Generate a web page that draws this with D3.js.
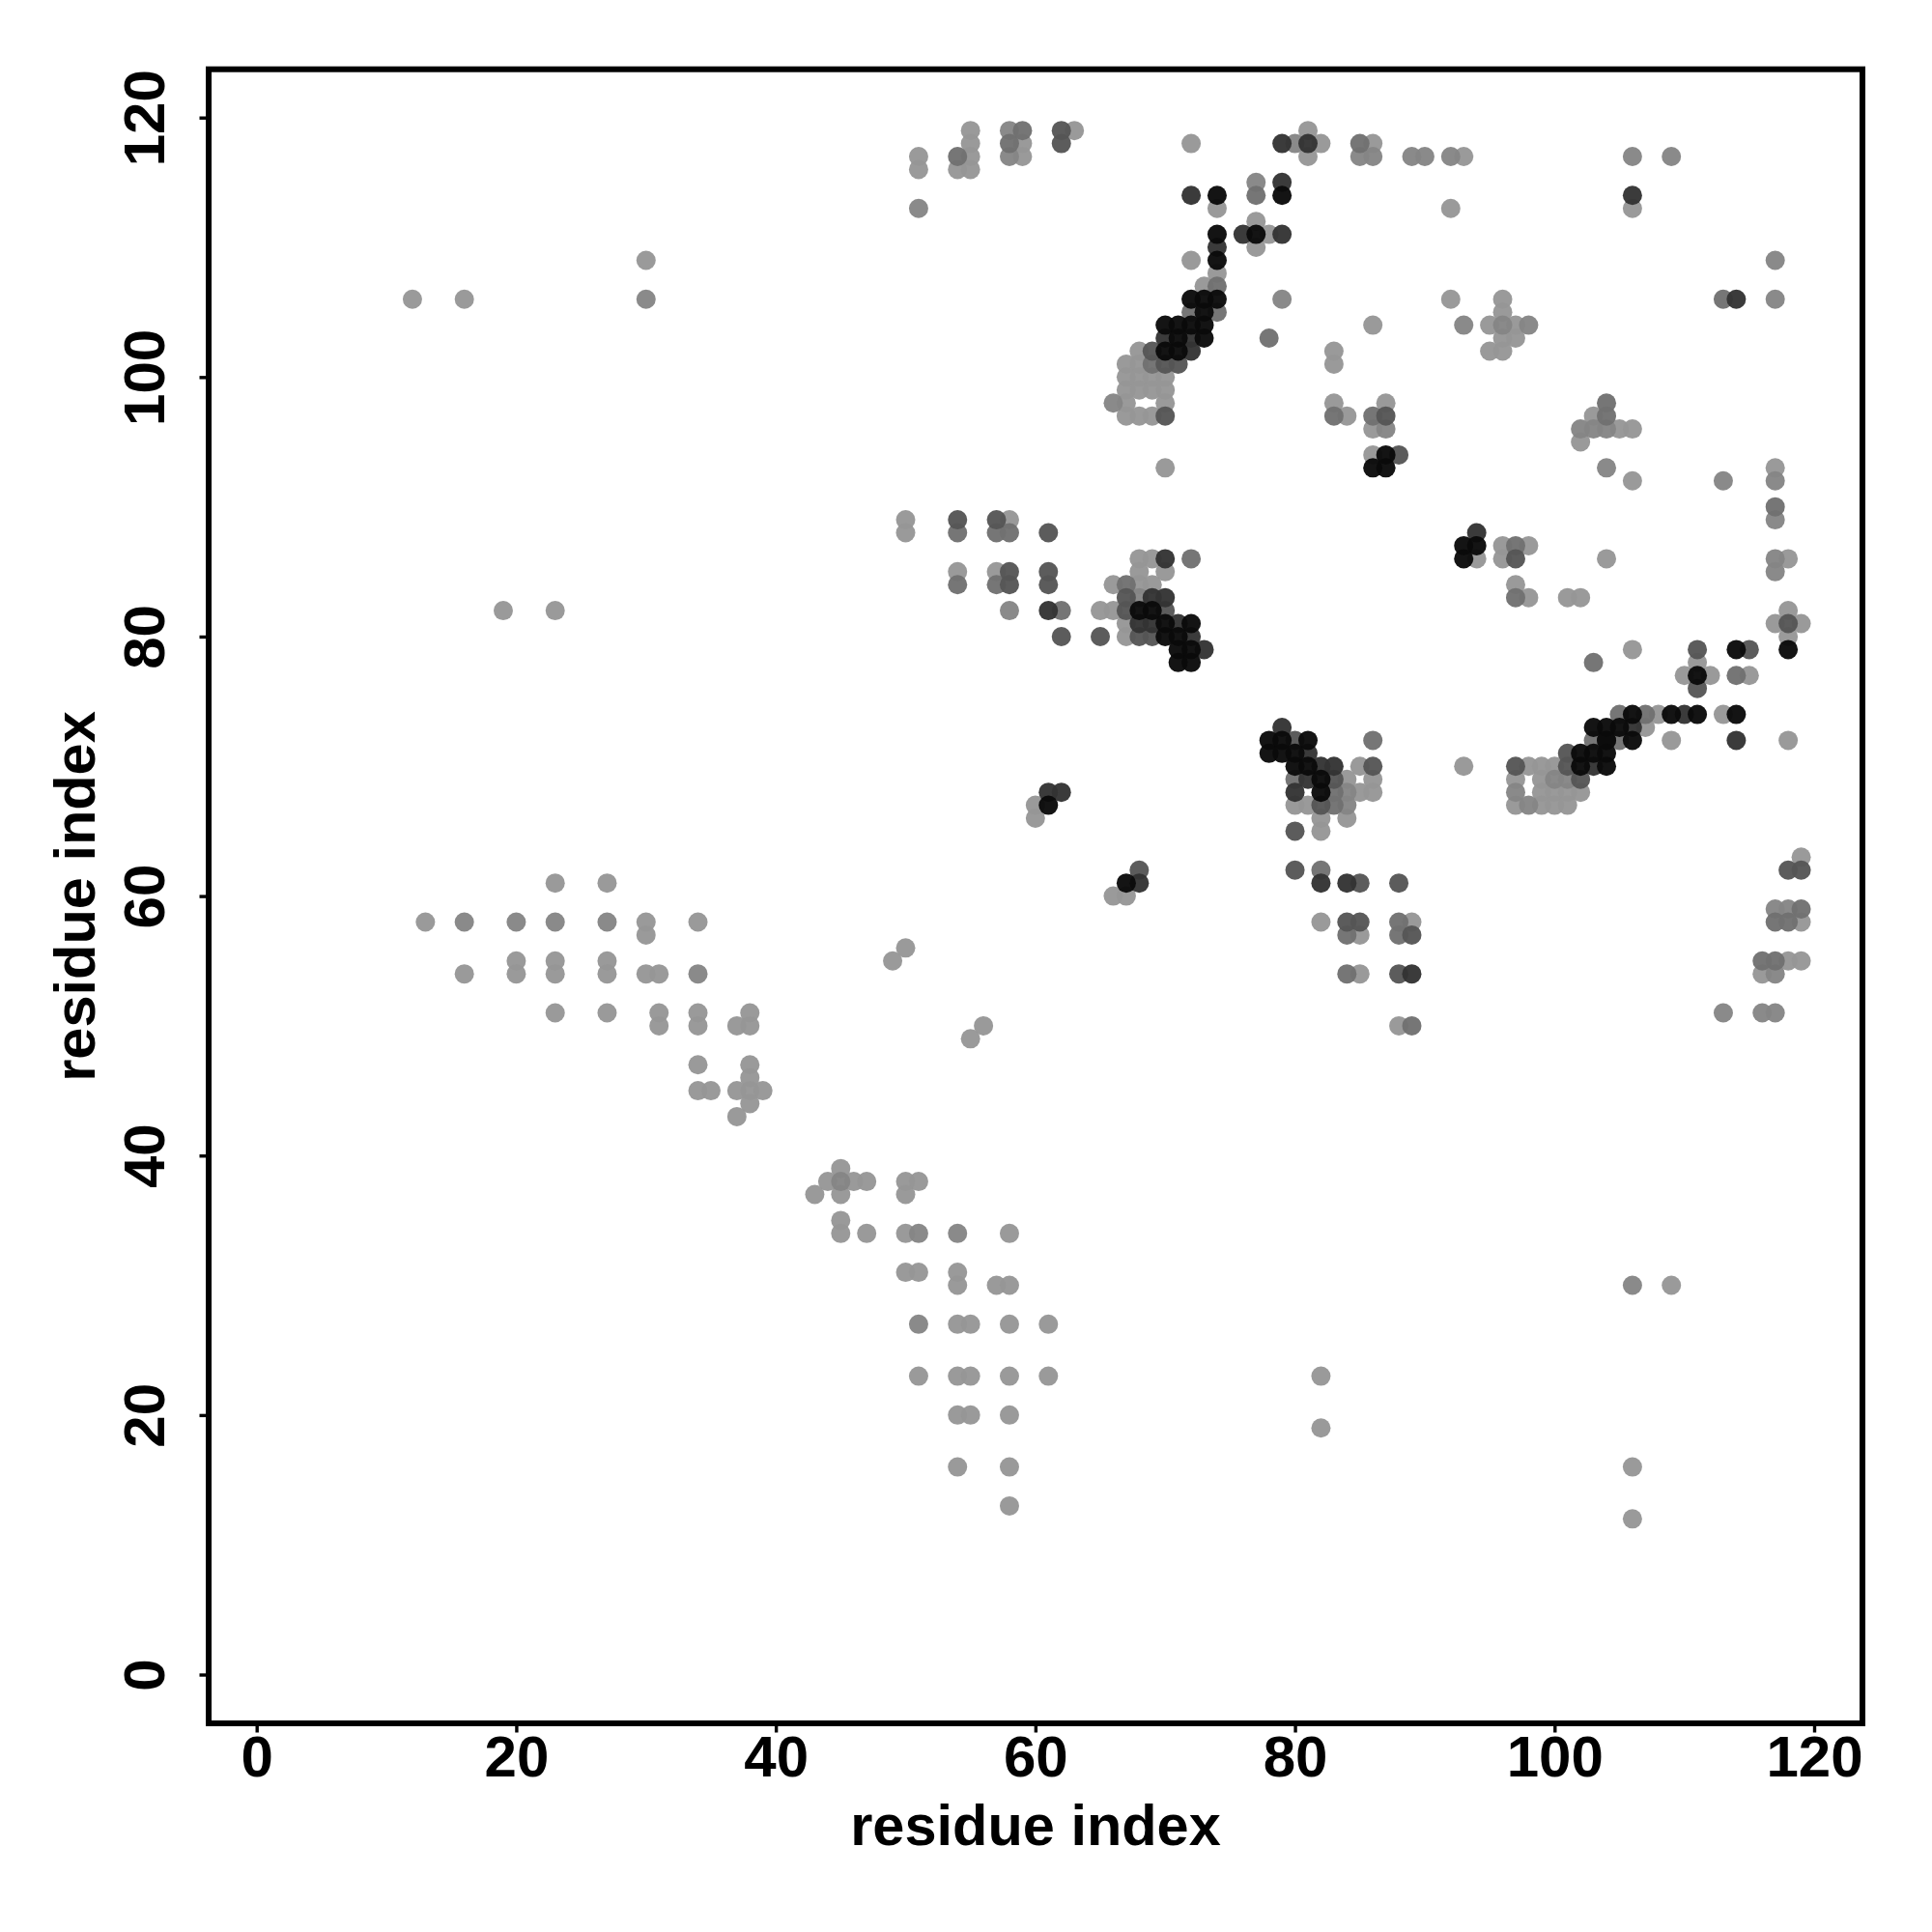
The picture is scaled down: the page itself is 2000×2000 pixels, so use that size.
<!DOCTYPE html>
<html><head><meta charset="utf-8">
<script src="https://cdn.jsdelivr.net/npm/d3@7"></script>
<style>html,body{margin:0;padding:0;background:#fff}</style>
</head><body><svg id="c" width="2000" height="2000"></svg>
<script>
const tickValues = [0,20,40,60,80,100,120];
const axisTitle = "residue index";
const light = [[55,119],[63,119],[81,119],[55,118],[59,118],[72,118],[82,118],[86,118],[51,117],[55,117],[59,117],[81,117],[93,117],[51,116],[54,116],[55,116],[74,113],[92,113],[106,113],[77,112],[78,111],[77,110],[30,109],[72,109],[74,108],[73,107],[12,106],[16,106],[92,106],[96,106],[96,105],[86,104],[95,104],[97,104],[96,103],[97,103],[68,102],[83,102],[95,102],[96,102],[67,101],[68,101],[83,101],[67,100],[68,100],[69,100],[70,100],[67,99],[68,99],[69,99],[70,99],[67,98],[70,98],[83,98],[87,98],[67,97],[68,97],[69,97],[84,97],[103,97],[86,96],[105,96],[106,96],[102,95],[86,94],[70,93],[117,93],[106,92],[50,89],[58,89],[50,88],[96,87],[98,87],[68,86],[69,86],[94,86],[96,86],[104,86],[118,86],[54,85],[57,85],[68,85],[70,85],[66,84],[68,84],[69,84],[97,84],[98,83],[101,83],[102,83],[19,82],[23,82],[65,82],[66,82],[118,82],[67,81],[117,81],[119,81],[67,80],[118,80],[106,79],[111,78],[110,77],[112,77],[115,77],[108,74],[113,74],[107,73],[109,72],[118,72],[85,70],[93,70],[98,70],[99,70],[100,70],[84,69],[86,69],[97,69],[99,69],[85,68],[86,68],[99,68],[100,68],[101,68],[102,68],[80,67],[81,67],[97,67],[99,67],[100,67],[101,67],[60,67],[60,66],[82,66],[84,66],[82,65],[119,63],[23,61],[27,61],[66,60],[67,60],[30,58],[34,58],[13,58],[82,58],[89,58],[119,58],[30,57],[85,57],[50,56],[118,55],[119,55],[49,55],[20,55],[23,55],[27,55],[116,54],[85,54],[16,54],[20,54],[23,54],[27,54],[30,54],[31,54],[23,51],[27,51],[31,51],[34,51],[38,51],[31,50],[34,50],[37,50],[38,50],[56,50],[88,50],[55,49],[34,47],[38,47],[38,46],[34,45],[35,45],[37,45],[38,45],[39,45],[38,44],[37,43],[45,39],[44,38],[46,38],[47,38],[50,38],[51,38],[43,37],[45,37],[50,37],[45,35],[45,34],[47,34],[50,34],[58,34],[50,31],[51,31],[54,31],[54,30],[57,30],[58,30],[109,30],[54,27],[55,27],[58,27],[61,27],[51,23],[54,23],[55,23],[58,23],[61,23],[82,23],[54,20],[55,20],[58,20],[82,19],[54,16],[58,16],[106,16],[58,13],[106,12]];
const midLight = [[58,119],[58,117],[80,118],[86,117],[85,117],[77,115],[89,117],[90,117],[92,117],[51,113],[106,117],[109,117],[79,106],[117,106],[117,109],[30,106],[113,92],[117,92],[117,89],[117,86],[117,85],[66,98],[87,96],[104,96],[103,96],[102,96],[98,104],[93,104],[96,104],[104,93],[58,82],[68,83],[97,68],[98,67],[100,69],[84,68],[84,67],[101,69],[113,51],[116,51],[117,51],[117,54],[117,59],[118,59],[34,54],[106,30],[54,34],[51,34],[27,58],[16,58],[20,58],[23,58],[45,38],[51,27]];
const mid = [[85,118],[58,118],[59,119],[54,117],[74,107],[72,105],[74,105],[77,114],[78,103],[113,106],[69,101],[104,98],[104,97],[86,97],[83,97],[117,90],[54,88],[57,88],[58,88],[97,87],[54,84],[57,84],[67,84],[97,83],[62,82],[72,86],[114,77],[103,78],[117,55],[117,58],[119,59],[118,58],[84,57],[84,54],[88,58],[83,67],[83,68],[80,69],[86,72],[107,74],[105,72],[103,72],[105,74],[116,55],[88,57],[89,50],[82,62]];
const darkMid = [[62,118],[62,119],[71,101],[70,101],[69,102],[70,97],[88,94],[87,97],[97,86],[88,54],[85,58],[84,58],[88,61],[85,61],[68,62],[80,62],[80,65],[118,62],[119,62],[61,88],[54,89],[57,89],[58,85],[58,84],[62,80],[65,80],[68,80],[67,82],[70,82],[67,83],[69,80],[80,72],[82,67],[83,69],[86,70],[97,70],[101,71],[101,70],[102,69],[111,76],[111,79],[115,79],[61,84],[61,85],[89,57],[118,81]];
const dark = [[79,118],[81,118],[79,115],[72,114],[106,114],[76,111],[79,111],[74,110],[72,103],[72,102],[70,103],[68,61],[82,61],[84,61],[61,82],[61,68],[62,68],[79,73],[80,68],[81,69],[81,71],[82,70],[83,70],[68,81],[69,81],[71,81],[69,83],[70,83],[73,79],[72,80],[70,86],[114,72],[106,73],[103,70],[104,72],[110,74],[114,106],[94,88],[89,54]];
const blackest = [[74,114],[79,114],[77,111],[74,111],[74,109],[72,106],[73,106],[74,106],[73,105],[70,104],[71,104],[72,104],[73,104],[71,103],[73,103],[70,102],[71,102],[87,94],[86,93],[87,93],[93,87],[94,87],[93,86],[68,82],[69,82],[70,81],[72,81],[70,80],[71,80],[71,79],[72,79],[71,78],[72,78],[118,79],[114,79],[111,77],[106,74],[109,74],[111,74],[114,74],[103,73],[104,73],[105,73],[104,72],[106,72],[102,71],[103,71],[104,71],[102,70],[104,70],[78,72],[79,72],[81,72],[78,71],[79,71],[80,71],[80,70],[81,70],[82,69],[82,68],[61,67],[67,61]];
const shadeGroups = [[light,"#969696"],[midLight,"#858585"],[mid,"#707070"],[darkMid,"#555555"],[dark,"#333333"],[blackest,"#0a0a0a"]];

const svg = d3.select("#c");
const x = d3.scaleLinear().domain([0,120]).range([265.7,1878]);
const y = d3.scaleLinear().domain([0,120]).range([1733.5,121.7]);
const font = "'Liberation Sans',Arial,Helvetica,sans-serif";

const pts = svg.append("g");
shadeGroups.forEach(([list,color])=>{
  pts.selectAll(null).data(list).join("circle")
    .attr("cx",d=>x(d[0])).attr("cy",d=>y(d[1])).attr("r",10)
    .attr("fill",color).attr("fill-opacity",0.96);
});

svg.append("rect").attr("x",216).attr("y",71.7).attr("width",1712).attr("height",1712.3)
  .attr("fill","none").attr("stroke","#000").attr("stroke-width",6);

const gx = svg.append("g").attr("transform","translate(0,1786.5)")
  .call(d3.axisBottom(x).tickValues(tickValues).tickSize(7).tickPadding(0).tickFormat(d3.format("d")));
const gy = svg.append("g").attr("transform","translate(213.5,0)")
  .call(d3.axisLeft(y).tickValues(tickValues).tickSize(7).tickPadding(0).tickFormat(d3.format("d")));
[gx,gy].forEach(g=>{
  g.select(".domain").remove();
  g.selectAll(".tick line").attr("stroke","#000").attr("stroke-width",3.4);
  g.selectAll(".tick text").attr("fill","#000")
    .style("font-family",font).style("font-weight","bold").style("font-size","60px");
});
gx.selectAll(".tick text").attr("y",null).attr("dy",null).attr("transform",null)
  .attr("y",1839-1786.5).attr("text-anchor","middle");
gy.selectAll(".tick text").attr("x",null).attr("dy",null)
  .attr("text-anchor","middle").attr("x",0).attr("y",0)
  .attr("transform","translate(-43.5,0) rotate(-90)");

svg.append("text").text(axisTitle).attr("x",1072).attr("y",1910).attr("text-anchor","middle")
  .style("font-family",font).style("font-weight","bold").style("font-size","59.5px");
svg.append("text").text(axisTitle).attr("text-anchor","middle")
  .attr("transform","translate(98,928) rotate(-90)")
  .style("font-family",font).style("font-weight","bold").style("font-size","59.5px");
</script></body></html>
